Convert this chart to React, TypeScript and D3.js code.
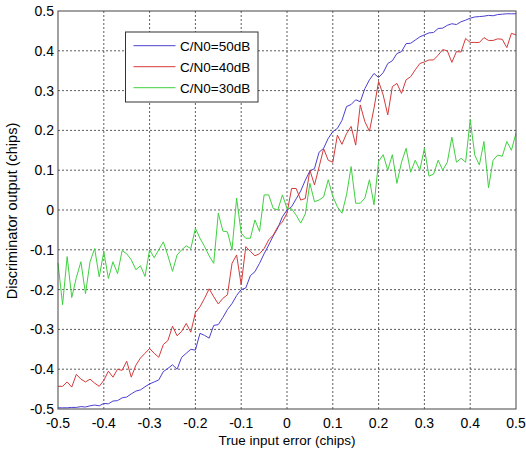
import React from "react";
import * as d3 from "d3";

const xValues = [
  -0.5, -0.49, -0.48, -0.47, -0.46, -0.45, -0.44, -0.43, -0.42, -0.41,
  -0.4, -0.39, -0.38, -0.37, -0.36, -0.35, -0.34, -0.33, -0.32, -0.31,
  -0.3, -0.29, -0.28, -0.27, -0.26, -0.25, -0.24, -0.23, -0.22, -0.21,
  -0.2, -0.19, -0.18, -0.17, -0.16, -0.15, -0.14, -0.13, -0.12, -0.11,
  -0.1, -0.09, -0.08, -0.07, -0.06, -0.05, -0.04, -0.03, -0.02, -0.01,
  0, 0.01, 0.02, 0.03, 0.04, 0.05, 0.06, 0.07, 0.08, 0.09,
  0.1, 0.11, 0.12, 0.13, 0.14, 0.15, 0.16, 0.17, 0.18, 0.19,
  0.2, 0.21, 0.22, 0.23, 0.24, 0.25, 0.26, 0.27, 0.28, 0.29,
  0.3, 0.31, 0.32, 0.33, 0.34, 0.35, 0.36, 0.37, 0.38, 0.39,
  0.4, 0.41, 0.42, 0.43, 0.44, 0.45, 0.46, 0.47, 0.48, 0.49, 0.5,
];

const cn50 = [
  -0.497, -0.497, -0.497, -0.496, -0.496, -0.494, -0.495, -0.492, -0.49, -0.492,
  -0.486, -0.487, -0.48, -0.479, -0.472, -0.47, -0.462, -0.455, -0.452, -0.444,
  -0.437, -0.432, -0.427, -0.406, -0.398, -0.389, -0.4, -0.37, -0.36, -0.35,
  -0.352, -0.31, -0.315, -0.322, -0.29, -0.288, -0.27, -0.25, -0.235, -0.215,
  -0.2, -0.196, -0.165, -0.155, -0.134, -0.11, -0.088, -0.065, -0.045, -0.017,
  0.0, 0.008, 0.028, 0.048, 0.075, 0.098, 0.104, 0.145, 0.155, 0.18,
  0.197, 0.205, 0.225, 0.26, 0.265, 0.277, 0.272, 0.305, 0.327, 0.343,
  0.333, 0.345, 0.368, 0.375, 0.393, 0.398, 0.418, 0.419, 0.427, 0.435,
  0.44, 0.445, 0.446, 0.456, 0.457, 0.464, 0.468, 0.466, 0.473, 0.477,
  0.482, 0.485, 0.486, 0.487, 0.489, 0.488, 0.491, 0.492, 0.493, 0.493, 0.493,
];

const cn40 = [
  -0.443, -0.443, -0.432, -0.445, -0.413, -0.425, -0.432, -0.425, -0.435, -0.443,
  -0.428, -0.405, -0.42, -0.4, -0.403, -0.38, -0.42, -0.39, -0.372, -0.36,
  -0.348, -0.36, -0.37, -0.338, -0.328, -0.292, -0.316, -0.305, -0.285, -0.307,
  -0.258, -0.243, -0.222, -0.198, -0.218, -0.236, -0.222, -0.213, -0.134, -0.113,
  -0.188, -0.092, -0.104, -0.115, -0.11, -0.097, -0.075, -0.063, -0.042, -0.03,
  -0.008, 0.054, 0.054, 0.025, 0.029, 0.1, 0.063, 0.108, 0.154, 0.125,
  0.12, 0.188, 0.165, 0.192, 0.21, 0.163, 0.264, 0.222, 0.198, 0.256,
  0.323, 0.289, 0.239, 0.31, 0.318, 0.293, 0.327, 0.335, 0.352, 0.368,
  0.372, 0.377, 0.377, 0.389, 0.403, 0.4, 0.371, 0.398, 0.397, 0.431,
  0.421, 0.421, 0.421, 0.433, 0.426, 0.426, 0.43, 0.429, 0.408, 0.444, 0.44,
];

const cn30 = [
  -0.133, -0.238, -0.117, -0.22, -0.17, -0.13, -0.21, -0.13, -0.097, -0.168,
  -0.105, -0.172, -0.13, -0.16, -0.102, -0.11, -0.125, -0.15, -0.14, -0.167,
  -0.1, -0.12, -0.1, -0.08, -0.115, -0.154, -0.113, -0.1, -0.09, -0.097,
  -0.046, -0.071, -0.092, -0.115, -0.134, -0.008, -0.053, -0.055, -0.1, 0.03,
  -0.058, -0.071, -0.071, -0.025, -0.054, 0.038, 0.038, 0.004, 0.0, 0.038,
  0.004, 0.003, -0.013, -0.033, -0.01, 0.067, 0.021, 0.025, 0.033, 0.076,
  0.034, 0.008, -0.008, 0.038, 0.109, 0.017, 0.017, 0.03, 0.076, 0.013,
  0.122, 0.139, 0.1, 0.139, 0.067, 0.12, 0.155, 0.095, 0.125, 0.1,
  0.155, 0.085, 0.09, 0.125, 0.1, 0.12, 0.183, 0.12, 0.13, 0.12,
  0.227, 0.138, 0.113, 0.172, 0.056, 0.125, 0.138, 0.135, 0.172, 0.15, 0.193,
];

const seriesNames = ["C/N0=50dB", "C/N0=40dB", "C/N0=30dB"];
const seriesColors = ["#4b3fd0", "#d63a3a", "#3fd13f"];
const xTicks = [-0.5, -0.4, -0.3, -0.2, -0.1, 0, 0.1, 0.2, 0.3, 0.4, 0.5];
const xTickLabels = ["-0.5", "-0.4", "-0.3", "-0.2", "-0.1", "0", "0.1", "0.2", "0.3", "0.4", "0.5"];
const yTicks = [-0.5, -0.4, -0.3, -0.2, -0.1, 0, 0.1, 0.2, 0.3, 0.4, 0.5];
const yTickLabels = ["-0.5", "-0.4", "-0.3", "-0.2", "-0.1", "0", "0.1", "0.2", "0.3", "0.4", "0.5"];
const xLabel = "True input error (chips)";
const yLabel = "Discriminator output (chips)";

const W = 526;
const H = 456;
const plot = { left: 58, right: 516, top: 11, bottom: 409 };
const font = "Liberation Sans, Arial, Helvetica, sans-serif";

export default function App() {
  const x = d3.scaleLinear().domain([-0.5, 0.5]).range([plot.left, plot.right]);
  const y = d3.scaleLinear().domain([-0.5, 0.5]).range([plot.bottom, plot.top]);
  const allSeries = [cn50, cn40, cn30];
  const line = d3
    .line<number>()
    .x((_, i) => x(xValues[i]))
    .y((d) => y(d));

  const legend = { x: 125.5, y: 32, w: 132.5, h: 70 };

  return (
    <svg
      width={W}
      height={H}
      style={{ position: "absolute", left: 0, top: 0, background: "#fff" }}
      fontFamily={font}
    >
      <rect x={0} y={0} width={W} height={H} fill="#fff" />
      {xTicks.slice(1, -1).map((t) => (
        <line
          key={"gx" + t}
          x1={x(t)}
          x2={x(t)}
          y1={plot.top}
          y2={plot.bottom}
          stroke="#333"
          strokeWidth={0.8}
          strokeDasharray="2,2"
        />
      ))}
      {yTicks.slice(1, -1).map((t) => (
        <line
          key={"gy" + t}
          x1={plot.left}
          x2={plot.right}
          y1={y(t)}
          y2={y(t)}
          stroke="#333"
          strokeWidth={0.8}
          strokeDasharray="2,2"
        />
      ))}
      {allSeries.map((s, i) => (
        <path
          key={seriesNames[i]}
          d={line(s) || ""}
          fill="none"
          stroke={seriesColors[i]}
          strokeWidth={1}
        />
      ))}
      <rect
        x={plot.left}
        y={plot.top}
        width={plot.right - plot.left}
        height={plot.bottom - plot.top}
        fill="none"
        stroke="#444"
        strokeWidth={1}
      />
      {xTicks.map((t, i) => (
        <text
          key={"xt" + t}
          x={x(t)}
          y={428}
          fontSize={14}
          textAnchor="middle"
          fill="#000"
        >
          {xTickLabels[i]}
        </text>
      ))}
      {yTicks.map((t, i) => (
        <text
          key={"yt" + t}
          x={plot.left - 4}
          y={y(t)}
          dy="0.36em"
          fontSize={14}
          textAnchor="end"
          fill="#000"
        >
          {yTickLabels[i]}
        </text>
      ))}
      <text
        x={(plot.left + plot.right) / 2}
        y={445}
        fontSize={13.5}
        textAnchor="middle"
        fill="#000"
      >
        {xLabel}
      </text>
      <text
        transform={`translate(17, ${(plot.top + plot.bottom) / 2 + 1}) rotate(-90)`}
        fontSize={14.5}
        textAnchor="middle"
        fill="#000"
      >
        {yLabel}
      </text>
      <rect
        x={legend.x}
        y={legend.y}
        width={legend.w}
        height={legend.h}
        fill="#fff"
        stroke="#333"
        strokeWidth={1}
      />
      {seriesNames.map((n, i) => {
        const ly = legend.y + 13.7 + i * 21;
        return (
          <g key={"lg" + n}>
            <line
              x1={legend.x + 8}
              x2={legend.x + 50}
              y1={ly}
              y2={ly}
              stroke={seriesColors[i]}
              strokeWidth={1}
            />
            <text x={legend.x + 54.5} y={ly} dy="0.36em" fontSize={13.5} fill="#000">
              {n}
            </text>
          </g>
        );
      })}
    </svg>
  );
}
